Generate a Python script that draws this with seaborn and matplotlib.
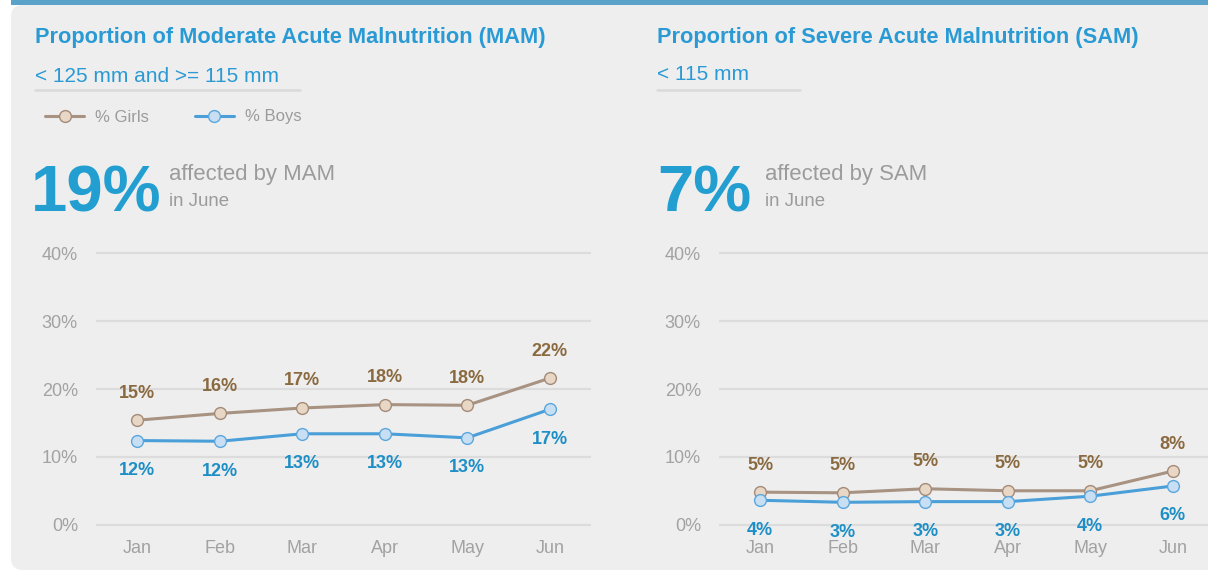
import matplotlib
matplotlib.use("Agg")
import matplotlib.pyplot as plt
from matplotlib.patches import Rectangle, FancyBboxPatch
from matplotlib.lines import Line2D
from matplotlib.transforms import IdentityTransform
import seaborn as sns
import pandas as pd

# ---------------- data ----------------
months = ["Jan", "Feb", "Mar", "Apr", "May", "Jun"]
mam_girls = [15.4, 16.4, 17.2, 17.7, 17.6, 21.6]
mam_boys = [12.4, 12.3, 13.4, 13.4, 12.8, 17.0]
sam_girls = [4.8, 4.7, 5.3, 5.0, 5.0, 7.9]
sam_boys = [3.6, 3.3, 3.4, 3.4, 4.2, 5.7]
y_ticks = [0, 10, 20, 30, 40]
series_names = ["% Girls", "% Boys"]
mam_headline = "19%"
sam_headline = "7%"

# ---------------- style ----------------
sns.set_theme(style="white")
plt.rcParams["font.family"] = ["Liberation Sans", "DejaVu Sans"]

W, H = 1208, 573
fig = plt.figure(figsize=(W / 100, H / 100), dpi=100)
fig.patch.set_facecolor("white")

PANEL = "#EEEEEE"
BLUE_TITLE = "#2A9AD4"
BIG_BLUE = "#239ED0"
GRAY_TXT = "#9B9B9B"
TICK_GRAY = "#A2A2A2"
GRID = "#DCDCDC"
GIRL_LINE = "#A89282"
GIRL_FACE = "#E9D7C6"
GIRL_EDGE = "#A48A78"
GIRL_LABEL = "#8A6A40"
BOY_LINE = "#4A9FD9"
BOY_FACE = "#C7DEF3"
BOY_EDGE = "#5AA7DE"
BOY_LABEL = "#1E8FC6"

def fx(px):
    return px / W

def fy(py):
    return 1 - py / H

# background panel (pixel coordinates)
panel = FancyBboxPatch((11, 573 - 570), 1250, 570 - 5,
                       boxstyle="round,pad=0,rounding_size=12",
                       transform=IdentityTransform(), facecolor=PANEL,
                       edgecolor="none", zorder=-10)
fig.add_artist(panel)
bar = Rectangle((11, 573 - 5), 1250, 5, transform=IdentityTransform(),
                facecolor="#5AA2C9", edgecolor="none", zorder=-9)
fig.add_artist(bar)

# axes geometry
px_per_unit = (524.7 - 253.3) / 40.0
ylo, yhi = -2, 42
ax_bottom_px = 573 - 524.7 - (0 - ylo) * px_per_unit
ax_h_px = (yhi - ylo) * px_per_unit

def make_ax(left_px, width_px):
    return fig.add_axes([fx(left_px), ax_bottom_px / H, width_px / W, ax_h_px / H])

ax1 = make_ax(96, 495)
ax2 = make_ax(719, 495)


def draw(ax, girls, boys):
    df = pd.DataFrame({
        "month": months * 2,
        "value": girls + boys,
        "series": [series_names[0]] * len(months) + [series_names[1]] * len(months),
    })
    sub_g = df[df["series"] == series_names[0]]
    sub_b = df[df["series"] == series_names[1]]
    sns.lineplot(data=sub_g, x="month", y="value", ax=ax, color=GIRL_LINE,
                 lw=2.2, marker="o", markersize=8.5, markerfacecolor=GIRL_FACE,
                 markeredgecolor=GIRL_EDGE, markeredgewidth=1.0,
                 label=series_names[0], legend=False, sort=False, zorder=3)
    sns.lineplot(data=sub_b, x="month", y="value", ax=ax, color=BOY_LINE,
                 lw=2.2, marker="o", markersize=8.5, markerfacecolor=BOY_FACE,
                 markeredgecolor=BOY_EDGE, markeredgewidth=1.0,
                 label=series_names[1], legend=False, sort=False, zorder=3)
    for i, (g, b) in enumerate(zip(girls, boys)):
        ax.annotate(f"{round(g):d}%", (i, g), xytext=(0, 19.5),
                    textcoords="offset points", ha="center", va="center",
                    fontsize=13, fontweight="bold", color=GIRL_LABEL, zorder=4)
        ax.annotate(f"{round(b):d}%", (i, b), xytext=(0, -21.5),
                    textcoords="offset points", ha="center", va="center",
                    fontsize=13, fontweight="bold", color=BOY_LABEL, zorder=4)
    ax.set_xlim(-0.5, len(months) - 0.5)
    ax.set_ylim(ylo, yhi)
    ax.set_yticks(y_ticks)
    ax.set_yticklabels([f"{t}%" for t in y_ticks])
    ax.set_xlabel("")
    ax.set_ylabel("")
    ax.set_facecolor("none")
    for s in ax.spines.values():
        s.set_visible(False)
    ax.grid(axis="y", color=GRID, lw=1.6)
    ax.grid(axis="x", visible=False)
    ax.set_axisbelow(True)
    ax.tick_params(axis="y", length=0, pad=13, labelsize=13, labelcolor=TICK_GRAY)
    ax.tick_params(axis="x", length=0, pad=1, labelsize=13, labelcolor=TICK_GRAY)


draw(ax1, mam_girls, mam_boys)
draw(ax2, sam_girls, sam_boys)

# legend (left chart only)
handles, labels = ax1.get_legend_handles_labels()
leg = fig.legend(handles, labels, loc="center left",
                 bbox_to_anchor=(fx(45), fy(117)), ncol=2, frameon=False,
                 fontsize=12, handlelength=2.35, handletextpad=0.66,
                 columnspacing=2.75, borderaxespad=0, borderpad=0)
for t in leg.get_texts():
    t.set_color(GRAY_TXT)

# titles / subtitles
for x0, title, sub, sub_y, line_end in [
        (35, "Proportion of Moderate Acute Malnutrition (MAM)", "< 125 mm and >= 115 mm", 81.5, 300),
        (657, "Proportion of Severe Acute Malnutrition (SAM)", "< 115 mm", 79.5, 800)]:
    fig.text(fx(x0), fy(43.5), title, ha="left", va="baseline", fontsize=15.7,
             fontweight="bold", color=BLUE_TITLE)
    fig.text(fx(x0), fy(sub_y), sub, ha="left", va="baseline", fontsize=15,
             color=BLUE_TITLE)
    fig.add_artist(Line2D([fx(x0), fx(line_end)], [fy(90), fy(90)],
                          color="#DADADA", lw=1.8, transform=fig.transFigure))

# headline numbers
for x0, xt, big, word in [(31, 169, mam_headline, "affected by MAM"),
                          (657, 765, sam_headline, "affected by SAM")]:
    fig.text(fx(x0), fy(211), big, ha="left", va="baseline", fontsize=47,
             fontweight="bold", color=BIG_BLUE)
    fig.text(fx(xt), fy(180), word, ha="left", va="baseline", fontsize=15.9,
             color=GRAY_TXT)
    fig.text(fx(xt), fy(206.5), "in June", ha="left", va="baseline", fontsize=13.4,
             color=GRAY_TXT)

fig.savefig("out.png", dpi=100, facecolor=fig.get_facecolor())
